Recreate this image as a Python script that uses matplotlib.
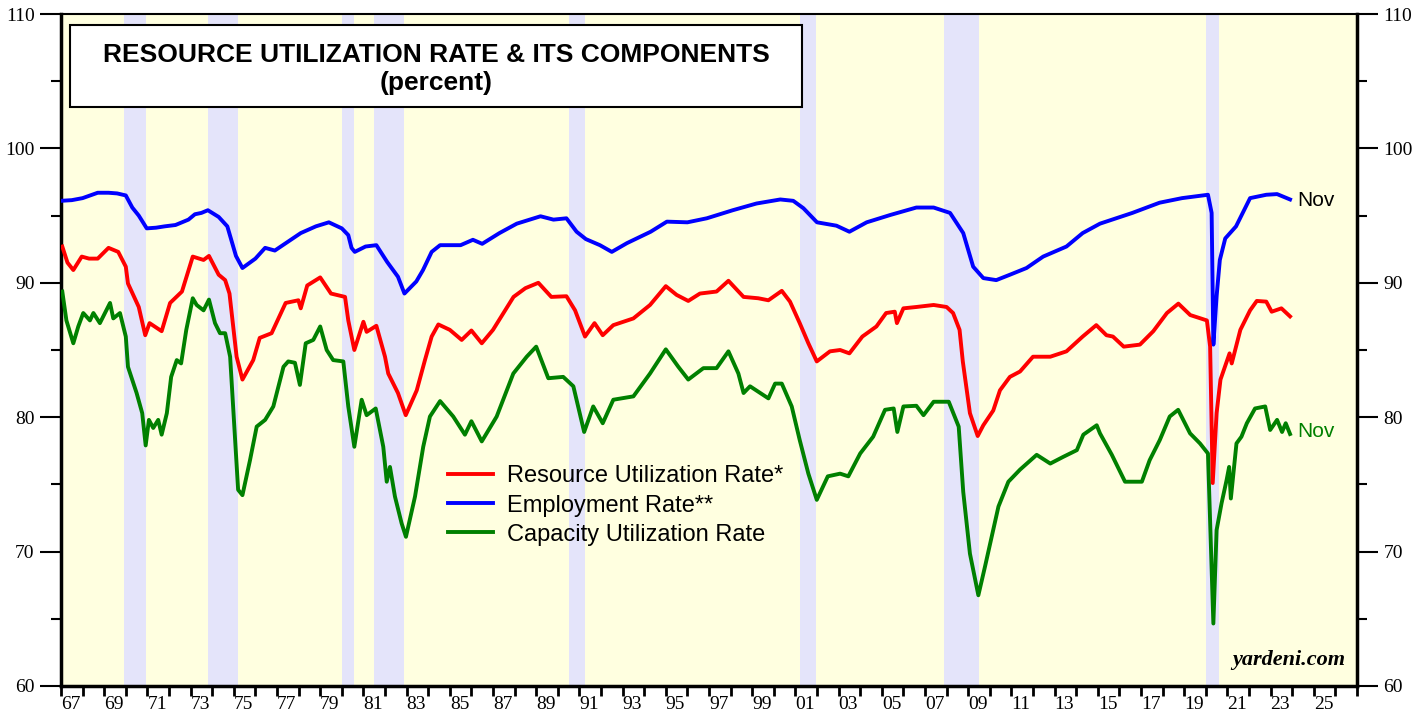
import matplotlib.pyplot as plt
from matplotlib.ticker import MultipleLocator, FixedLocator, NullFormatter, FixedFormatter
from matplotlib.patches import Rectangle

# recession bands (decimal years)
rec_start = [1969.92, 1973.8, 1980.0, 1981.5, 1990.5, 2001.2, 2007.9, 2020.0]
rec_end = [1970.92, 1975.2, 1980.58, 1982.9, 1991.25, 2001.95, 2009.5, 2020.6]

# Employment rate (blue)
emp_t = [1967.0, 1967.5, 1968.0, 1968.7, 1969.2, 1969.6, 1970.0, 1970.3, 1970.6, 1970.97,
         1971.4, 1971.8, 1972.3, 1972.9, 1973.2, 1973.5, 1973.8, 1974.3, 1974.7, 1975.1,
         1975.4, 1976.0, 1976.45, 1976.9, 1977.5, 1978.1, 1978.8, 1979.4, 1980.0, 1980.3,
         1980.45, 1980.6, 1981.1, 1981.6, 1982.1, 1982.6, 1982.9, 1983.45, 1983.76, 1984.16,
         1984.55, 1985.5, 1986.07, 1986.5, 1987.3, 1988.1, 1989.2, 1989.8, 1990.4, 1990.87,
         1991.3, 1991.95, 1992.5, 1993.2, 1994.3, 1995.05, 1996.0, 1996.9, 1998.1, 1999.2,
         2000.3, 2000.9, 2001.37, 2002.0, 2002.9, 2003.5, 2004.3, 2005.4, 2006.6, 2007.4,
         2008.16, 2008.77, 2009.23, 2009.7, 2010.3, 2010.93, 2011.7, 2012.47, 2013.55, 2014.3,
         2015.1, 2016.6, 2017.86, 2018.9, 2020.1, 2020.27, 2020.35, 2020.5, 2020.65, 2020.9,
         2021.4, 2022.05, 2022.8, 2023.3, 2023.9]
emp_v = [96.1, 96.15, 96.3, 96.7, 96.7, 96.65, 96.5, 95.6, 95.0, 94.05,
         94.1, 94.2, 94.3, 94.7, 95.1, 95.2, 95.4, 94.9, 94.2, 92.0,
         91.1, 91.8, 92.6, 92.4, 93.05, 93.7, 94.2, 94.5, 94.05, 93.55,
         92.6, 92.3, 92.7, 92.8, 91.55, 90.45, 89.2, 90.1, 90.95, 92.3,
         92.8, 92.8, 93.2, 92.9, 93.7, 94.4, 94.95, 94.7, 94.8, 93.8,
         93.25, 92.8, 92.3, 92.95, 93.8, 94.55, 94.5, 94.8, 95.4, 95.9,
         96.2, 96.1, 95.55, 94.5, 94.25, 93.8, 94.5, 95.05, 95.6, 95.6,
         95.2, 93.7, 91.2, 90.35, 90.2, 90.6, 91.1, 91.95, 92.7, 93.7,
         94.4, 95.2, 95.96, 96.3, 96.55, 95.2, 85.4, 89.0, 91.7, 93.3,
         94.2, 96.3, 96.55, 96.6, 96.2]

# Resource utilization rate (red)
ru_t = [1967.06, 1967.3, 1967.57, 1967.96, 1968.3, 1968.7, 1969.2, 1969.65, 1970.0, 1970.1,
        1970.6, 1970.9, 1971.1, 1971.66, 1972.05, 1972.6, 1973.1, 1973.6, 1973.85, 1974.3,
        1974.6, 1974.8, 1975.13, 1975.4, 1975.9, 1976.2, 1976.75, 1977.4, 1977.99, 1978.1,
        1978.4, 1979.0, 1979.5, 1980.15, 1980.3, 1980.58, 1981.0, 1981.15, 1981.6, 1982.0,
        1982.15, 1982.6, 1982.96, 1983.47, 1983.85, 1984.16, 1984.47, 1985.0, 1985.55, 1986.0,
        1986.48, 1987.0, 1987.95, 1988.5, 1989.1, 1989.7, 1990.4, 1990.8, 1991.26, 1991.7,
        1992.08, 1992.57, 1993.5, 1994.27, 1995.0, 1995.5, 1996.04, 1996.58, 1997.35, 1997.9,
        1998.6, 1999.28, 1999.75, 2000.37, 2000.75, 2001.2, 2001.6, 2001.99, 2002.6, 2003.07,
        2003.5, 2004.1, 2004.75, 2005.2, 2005.6, 2005.7, 2006.0, 2006.6, 2007.4, 2008.0,
        2008.3, 2008.6, 2008.75, 2009.08, 2009.44, 2009.7, 2010.16, 2010.47, 2010.93, 2011.4,
        2012.0, 2012.8, 2013.55, 2014.3, 2014.93, 2015.4, 2015.7, 2016.2, 2016.95, 2017.57,
        2018.2, 2018.73, 2019.28, 2020.05, 2020.2, 2020.32, 2020.5, 2020.68, 2021.1, 2021.2,
        2021.6, 2022.05, 2022.36, 2022.8, 2023.05, 2023.5, 2023.9]
ru_v = [92.7, 91.5, 90.95, 91.95, 91.8, 91.8, 92.6, 92.3, 91.2, 89.95,
        88.2, 86.1, 87.0, 86.4, 88.5, 89.35, 91.95, 91.7, 92.0, 90.6,
        90.2, 89.2, 84.5, 82.8, 84.25, 85.9, 86.25, 88.5, 88.7, 88.1,
        89.8, 90.4, 89.2, 88.95, 87.2, 85.0, 87.1, 86.35, 86.8, 84.5,
        83.25, 81.8, 80.15, 82.0, 84.25, 86.0, 86.9, 86.5, 85.75, 86.45,
        85.5, 86.5, 88.95, 89.6, 90.0, 88.95, 89.0, 87.95, 86.0, 87.0,
        86.1, 86.85, 87.35, 88.35, 89.75, 89.1, 88.65, 89.2, 89.35, 90.15,
        88.95, 88.85, 88.7, 89.4, 88.6, 87.0, 85.5, 84.15, 84.9, 85.0,
        84.75, 86.0, 86.75, 87.75, 87.85, 87.0, 88.1, 88.2, 88.35, 88.2,
        87.75, 86.5, 84.15, 80.3, 78.6, 79.4, 80.5, 82.0, 83.0, 83.4,
        84.5, 84.5, 84.9, 86.0, 86.85, 86.1, 86.0, 85.25, 85.4, 86.4,
        87.75, 88.45, 87.6, 87.2, 85.25, 75.1, 80.3, 82.8, 84.75, 84.0,
        86.5, 87.95, 88.65, 88.6, 87.85, 88.1, 87.5]

# Capacity utilization rate (green)
cu_t = [1967.06, 1967.25, 1967.57, 1967.8, 1968.03, 1968.34, 1968.5, 1968.8, 1969.27, 1969.42,
        1969.73, 1970.0, 1970.1, 1970.5, 1970.76, 1970.92, 1971.07, 1971.27, 1971.5, 1971.66,
        1971.9, 1972.1, 1972.36, 1972.56, 1972.8, 1973.1, 1973.28, 1973.6, 1973.85, 1974.13,
        1974.36, 1974.6, 1974.83, 1975.06, 1975.2, 1975.4, 1975.75, 1976.06, 1976.45, 1976.83,
        1976.99, 1977.3, 1977.52, 1977.83, 1978.06, 1978.33, 1978.68, 1979.0, 1979.3, 1979.6,
        1980.07, 1980.3, 1980.58, 1980.92, 1981.15, 1981.57, 1981.92, 1982.08, 1982.23, 1982.46,
        1982.77, 1982.97, 1983.39, 1983.77, 1984.08, 1984.55, 1985.16, 1985.7, 1986.0, 1986.48,
        1987.17, 1987.94, 1988.56, 1989.0, 1989.56, 1990.25, 1990.72, 1991.22, 1991.64, 1992.08,
        1992.57, 1993.5, 1994.27, 1995.0, 1995.58, 1996.04, 1996.74, 1997.35, 1997.9, 1998.36,
        1998.6, 1998.9, 1999.28, 1999.75, 2000.06, 2000.37, 2000.83, 2001.2, 2001.6, 2001.99,
        2002.5, 2003.07, 2003.45, 2004.0, 2004.6, 2005.15, 2005.55, 2005.72, 2006.0, 2006.6,
        2006.93, 2007.4, 2008.1, 2008.56, 2008.77, 2009.08, 2009.47, 2009.78, 2010.4, 2010.86,
        2011.4, 2012.17, 2012.8, 2013.4, 2014.03, 2014.33, 2014.95, 2015.1, 2015.65, 2016.26,
        2017.04, 2017.4, 2017.87, 2018.33, 2018.72, 2019.27, 2019.73, 2020.1, 2020.35, 2020.5,
        2020.73, 2020.96, 2021.08, 2021.16, 2021.42, 2021.65, 2021.9, 2022.28, 2022.75, 2022.98,
        2023.3, 2023.53, 2023.7, 2023.9]
cu_v = [89.35, 87.2, 85.5, 86.75, 87.75, 87.2, 87.75, 87.0, 88.5, 87.35,
        87.75, 86.0, 83.75, 81.8, 80.3, 77.9, 79.8, 79.2, 79.8, 78.7,
        80.3, 83.0, 84.25, 84.0, 86.5, 88.85, 88.35, 87.95, 88.75, 87.0,
        86.25, 86.25, 84.5, 78.3, 74.6, 74.2, 76.8, 79.3, 79.8, 80.8,
        81.8, 83.75, 84.15, 84.05, 82.4, 85.5, 85.75, 86.75, 85.0, 84.25,
        84.15, 80.8, 77.8, 81.3, 80.15, 80.65, 77.8, 75.2, 76.3, 74.1,
        72.1, 71.1, 74.1, 77.8, 80.05, 81.2, 80.05, 78.7, 79.7, 78.2,
        80.05, 83.25, 84.5, 85.25, 82.9, 83.0, 82.3, 78.9, 80.8, 79.55,
        81.3, 81.55, 83.25, 85.05, 83.75, 82.8, 83.65, 83.65, 84.9, 83.25,
        81.8, 82.3, 81.9, 81.4, 82.5, 82.5, 80.8, 78.3, 75.8, 73.85,
        75.6, 75.8, 75.6, 77.3, 78.55, 80.55, 80.65, 78.9, 80.8, 80.85,
        80.15, 81.15, 81.15, 79.3, 74.45, 69.85, 66.75, 68.9, 73.35, 75.2,
        76.1, 77.2, 76.55, 77.05, 77.55, 78.7, 79.4, 78.8, 77.2, 75.2,
        75.2, 76.8, 78.3, 80.05, 80.55, 78.8, 78.05, 77.3, 64.65, 71.6,
        73.6, 75.3, 76.3, 73.95, 78.05, 78.55, 79.55, 80.65, 80.8, 79.05,
        79.8, 78.9, 79.55, 78.75]

year_labels = ['67', '69', '71', '73', '75', '77', '79', '81', '83', '85', '87', '89', '91',
               '93', '95', '97', '99', '01', '03', '05', '07', '09', '11', '13', '15', '17',
               '19', '21', '23', '25']

serif = 'Liberation Serif'
sans = 'Liberation Sans'

fig = plt.figure(figsize=(14.27, 7.19), dpi=100)
ax = fig.add_axes([61 / 1427, 33 / 719, 1296 / 1427, 672 / 719])
ax.set_facecolor('#ffffe0')

for s, e in zip(rec_start, rec_end):
    ax.axvspan(s, e, color='#e4e4fa', lw=0, zorder=1)

ax.plot(cu_t, cu_v, color='#008000', lw=2.8, zorder=3)
ax.plot(emp_t, emp_v, color='#0000ff', lw=2.8, zorder=4)
ax.plot(ru_t, ru_v, color='#ff0000', lw=2.8, zorder=5)

ax.set_xlim(1967, 2027)
ax.set_ylim(60, 110)

# y axis both sides
ax.yaxis.set_major_locator(MultipleLocator(10))
ax.yaxis.set_minor_locator(MultipleLocator(5))
ax.tick_params(axis='y', which='both', left=True, right=True, labelleft=True, labelright=True,
               direction='out', width=1.5, labelsize=14, pad=4)
ax.tick_params(axis='y', which='major', length=15)
ax.tick_params(axis='y', which='minor', length=7)
for lab in ax.get_yticklabels():
    lab.set_fontfamily(serif)

# x axis: ticks at year starts, labels mid-year on odd years
ax.xaxis.set_major_locator(FixedLocator(list(range(1967, 2028))))
ax.xaxis.set_major_formatter(NullFormatter())
ax.xaxis.set_minor_locator(FixedLocator([1967.45 + 2 * i for i in range(len(year_labels))]))
ax.xaxis.set_minor_formatter(FixedFormatter(year_labels))
ax.tick_params(axis='x', which='major', direction='out', length=7, width=2)
ax.tick_params(axis='x', which='minor', length=0, labelsize=14, pad=7)
for lab in ax.get_xticklabels(minor=True):
    lab.set_fontfamily(serif)

for side in ['left', 'right', 'bottom']:
    ax.spines[side].set_linewidth(2.5)
ax.spines['top'].set_linewidth(1.5)

# title box
box = Rectangle((9 / 1296, 1 - 93 / 672), 732 / 1296, 82 / 672, transform=ax.transAxes,
                facecolor='white', edgecolor='black', lw=1.5, zorder=6)
ax.add_patch(box)
ax.text(375 / 1296, 1 - 41 / 672, 'RESOURCE UTILIZATION RATE & ITS COMPONENTS',
        transform=ax.transAxes, ha='center', va='center', fontsize=19, fontweight='bold',
        family=sans, zorder=7)
ax.text(375 / 1296, 1 - 69 / 672, '(percent)', transform=ax.transAxes, ha='center',
        va='center', fontsize=19, fontweight='bold', family=sans, zorder=7)

# legend
h_ru, = ax.plot([], [], color='#ff0000', lw=2.8)
h_emp, = ax.plot([], [], color='#0000ff', lw=2.8)
h_cu, = ax.plot([], [], color='#008000', lw=2.8)
leg = ax.legend([h_ru, h_emp, h_cu],
                ['Resource Utilization Rate*', 'Employment Rate**', 'Capacity Utilization Rate'],
                loc='upper left', bbox_to_anchor=(378 / 1296, 1 - 442 / 672), frameon=False,
                prop={'family': sans, 'size': 17}, handlelength=1.9, handletextpad=0.6,
                labelspacing=0.3, borderaxespad=0)

# end labels
ax.text(2024.25, 96.1, 'Nov', fontsize=15, family=sans, color='black', va='center', zorder=7)
ax.text(2024.25, 78.9, 'Nov', fontsize=15, family=sans, color='#008000', va='center', zorder=7)

ax.text(2026.45, 61.2, 'yardeni.com', fontsize=16, family=serif, fontweight='bold',
        fontstyle='italic', ha='right', va='bottom', zorder=7)

fig.savefig('out.png', dpi=100)
